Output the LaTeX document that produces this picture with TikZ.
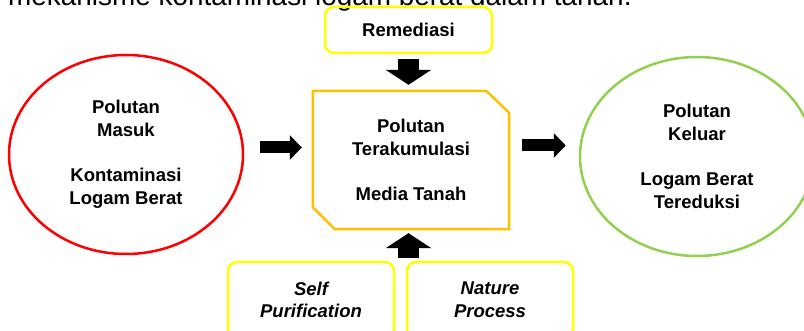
\documentclass[tikz,border=0pt]{standalone}
\usepackage{fontspec}
\setmainfont{Liberation Sans}
\usetikzlibrary{shapes.geometric,arrows.meta,positioning}
\definecolor{inred}{HTML}{FF0000}
\definecolor{outgreen}{HTML}{92D050}
\definecolor{soilgold}{HTML}{FFC000}
\definecolor{helpyellow}{HTML}{FFFF00}
\newcommand{\flowfont}{\fontsize{18.5}{22.7}\selectfont\bfseries}
\newcommand{\captfont}{\fontsize{27.9}{32}\selectfont}
\tikzset{
  inflow/.style = {ellipse, draw=inred, line width=2.5pt, minimum width=234pt, minimum height=199pt, inner sep=0pt, align=center, font=\flowfont},
  outflow/.style = {inflow, draw=outgreen},
  soilbox/.style = {rectangle, minimum width=196pt, minimum height=138pt, inner sep=0pt, align=center, font=\flowfont},
  soilline/.style = {draw=soilgold, line width=2.5pt, line join=miter},
  helpbox/.style = {rectangle, rounded corners=9pt, draw=helpyellow, line width=2.5pt, minimum width=167pt, minimum height=46pt, inner sep=0pt, align=center, font=\flowfont},
  fatright/.style = {line width=12pt, -{Triangle[length=12pt, width=24pt]}},
  fatvert/.style = {line width=21pt, -{Triangle[length=15pt, width=45pt]}}
}

\begin{document}
\begin{tikzpicture}[x=1pt, y=-1pt]
  \useasboundingbox (0,0) rectangle (804,331);
  \node [anchor=base west, inner sep=0pt, font=\captfont] (judul) at (8,6) {mekanisme kontaminasi logam berat dalam tanah.};
  \node [inflow] (masuk) at (126,154.5) {Polutan\\Masuk\\[\baselineskip]Kontaminasi\\Logam Berat};
  \node [soilbox] (tanah) at (411,160) {Polutan\\Terakumulasi\\[\baselineskip]Media Tanah};
  \draw [soilline] (tanah.north west) -- ([xshift=-23pt]tanah.north east) -- ([yshift=-22pt]tanah.north east)
    -- (tanah.south east) -- ([xshift=22pt]tanah.south west) -- ([yshift=22pt]tanah.south west) -- cycle;
  \node [outflow] (keluar) at (697,156.5) {Polutan\\Keluar\\[\baselineskip]Logam Berat\\Tereduksi};
  \node [helpbox] (remedi) at (408.5,30) {Remediasi};
  \node [helpbox, minimum width=166pt, minimum height=76pt, font=\flowfont\itshape] (selfp) at (311,300) {Self\\Purification};
  \node [helpbox, minimum width=166pt, minimum height=76pt, font=\flowfont\itshape] (natp) at (490,300) {Nature\\Process};

  \draw [fatright, shorten <=16pt, shorten >=11pt] ([yshift=7pt]masuk.east) -- ([yshift=12.5pt]tanah.west);
  \draw [fatright, shorten <=13pt, shorten >=13pt] ([yshift=14.5pt]tanah.east) -- ([yshift=11pt]keluar.west);
  \draw [fatvert, shorten <=5pt, shorten >=6pt] (remedi.south) -- (remedi.south |- tanah.north);
  \draw [fatvert, shorten <=3pt, shorten >=4pt] (remedi.south |- selfp.north) -- (remedi.south |- tanah.south);
\end{tikzpicture}
\end{document}
